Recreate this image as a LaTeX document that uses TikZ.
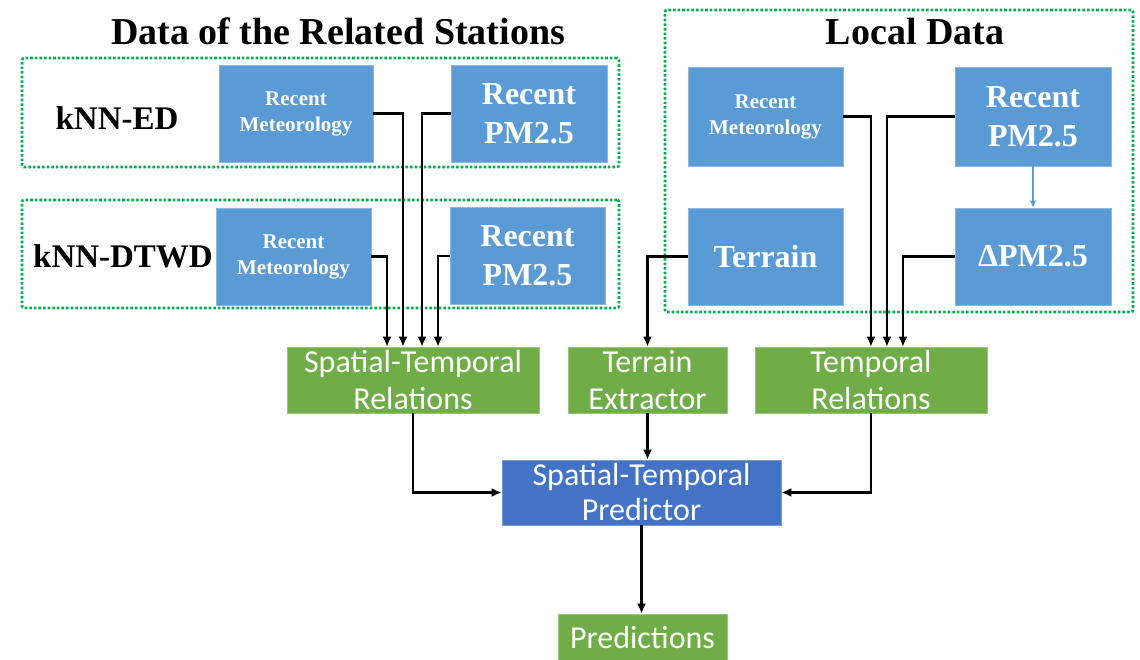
\documentclass[tikz,border=0pt]{standalone}
\usepackage{fontspec}
\setmainfont{Liberation Serif}
\newfontfamily\calibrifont{Carlito}
\usetikzlibrary{arrows.meta}
\definecolor{boxblue}{HTML}{5B9BD5}
\definecolor{boxgreen}{HTML}{70AD47}
\definecolor{predblue}{HTML}{4472C4}
\definecolor{dotgreen}{HTML}{00B050}
\tikzset{
  bluebox/.style={fill=boxblue, draw=boxblue!70!white, line width=0.6pt, text=white, inner sep=0pt, align=center, font=\bfseries},
  smalltxt/.style={font=\bfseries\fontsize{21}{26}\selectfont},
  bigtxt/.style={font=\bfseries\fontsize{32}{39}\selectfont},
  greenbox/.style={fill=boxgreen, draw=boxgreen!70!white, line width=0.6pt, text=white, inner sep=0pt, align=center, font=\calibrifont\fontsize{32}{37}\selectfont},
  predbox/.style={fill=predblue, draw=predblue!70!white, line width=0.6pt, text=white, inner sep=0pt, align=center, font=\calibrifont\fontsize{32}{35}\selectfont},
  groupbox/.style={draw=dotgreen, line width=2.6pt, dotted, rounded corners=2pt},
  titletxt/.style={font=\bfseries\fontsize{38}{42}\selectfont, inner sep=0pt},
  labtxt/.style={font=\bfseries\fontsize{33}{36}\selectfont, inner sep=0pt},
  arr/.style={draw=black, line width=2.3pt, -{Latex[length=10pt,width=9pt]}},
  thinarr/.style={draw=boxblue, line width=1.1pt, -{Latex[length=7pt,width=6pt]}}
}
\begin{document}
\begin{tikzpicture}[x=1pt,y=-1pt]
\useasboundingbox (0,0) rectangle (1140,660);
% group frames
\node[groupbox, minimum width=597pt, minimum height=109pt, inner sep=0pt] (gED) at (320.5,112.5) {};
\node[groupbox, minimum width=597pt, minimum height=108pt, inner sep=0pt] (gDT) at (320.5,254) {};
\node[groupbox, minimum width=468pt, minimum height=302pt, inner sep=0pt] (gLoc) at (899,161) {};
% titles
\node[titletxt] (t1) at (338,31) {Data of the Related Stations};
\node[titletxt] (t2) at (915,32) {Local Data};
\node[labtxt] (lED) at (117,118) {kNN-ED};
\node[labtxt] (lDT) at (123,256) {kNN-DTWD};
% blue boxes
\node[bluebox, smalltxt, minimum width=154pt, minimum height=97pt] (edmet) at (296,113.5) {Recent\\Meteorology};
\node[bluebox, bigtxt, minimum width=156pt, minimum height=97pt] (edpm) at (529,113.5) {Recent\\PM2.5};
\node[bluebox, smalltxt, minimum width=155pt, minimum height=97pt] (dtmet) at (293.5,256.5) {Recent\\Meteorology};
\node[bluebox, bigtxt, minimum width=155pt, minimum height=97pt] (dtpm) at (527.5,256) {Recent\\PM2.5};
\node[bluebox, smalltxt, minimum width=155pt, minimum height=99pt] (lmet) at (765.5,116.5) {Recent\\Meteorology};
\node[bluebox, bigtxt, minimum width=156pt, minimum height=99pt] (lpm) at (1033,116.5) {Recent\\PM2.5};
\node[bluebox, bigtxt, minimum width=155pt, minimum height=97pt] (terr) at (765.5,256.5) {Terrain};
\node[bluebox, bigtxt, minimum width=156pt, minimum height=97pt] (dpm) at (1033,256.5) {ΔPM2.5};
% green boxes
\node[greenbox, minimum width=252pt, minimum height=66pt] (str) at (413,380) {Spatial-Temporal\\Relations};
\node[greenbox, minimum width=159pt, minimum height=66pt] (te) at (647.5,380) {Terrain\\Extractor};
\node[greenbox, minimum width=232pt, minimum height=66pt] (tr) at (871,380) {Temporal\\Relations};
\node[predbox, minimum width=279pt, minimum height=65pt] (pred) at (641.5,492.5) {Spatial-Temporal\\Predictor};
\node[greenbox, minimum width=169pt, minimum height=48pt] (out) at (642.5,638) {Predictions};
% connectors
\draw[arr] (edmet.east) -| ([xshift=-10pt]str.north);
\draw[arr] (edpm.west) -| ([xshift=9pt]str.north);
\draw[arr] (dtmet.east) -| ([xshift=-26pt]str.north);
\draw[arr] (dtpm.west) -| ([xshift=25pt]str.north);
\draw[arr] (lmet.east) -| (tr.north);
\draw[arr] (lpm.west) -| ([xshift=16pt]tr.north);
\draw[arr] (dpm.west) -| ([xshift=32pt]tr.north);
\draw[arr] (terr.west) -| (te.north);
\draw[thinarr] (lpm.south) -- (dpm.north);
\draw[arr] (str.south) |- (pred.west);
\draw[arr] (tr.south) |- (pred.east);
\draw[arr] (te.south) -- (te.south |- pred.north);
\draw[arr] (pred.south) -- (pred.south |- out.north);
\end{tikzpicture}
\end{document}
